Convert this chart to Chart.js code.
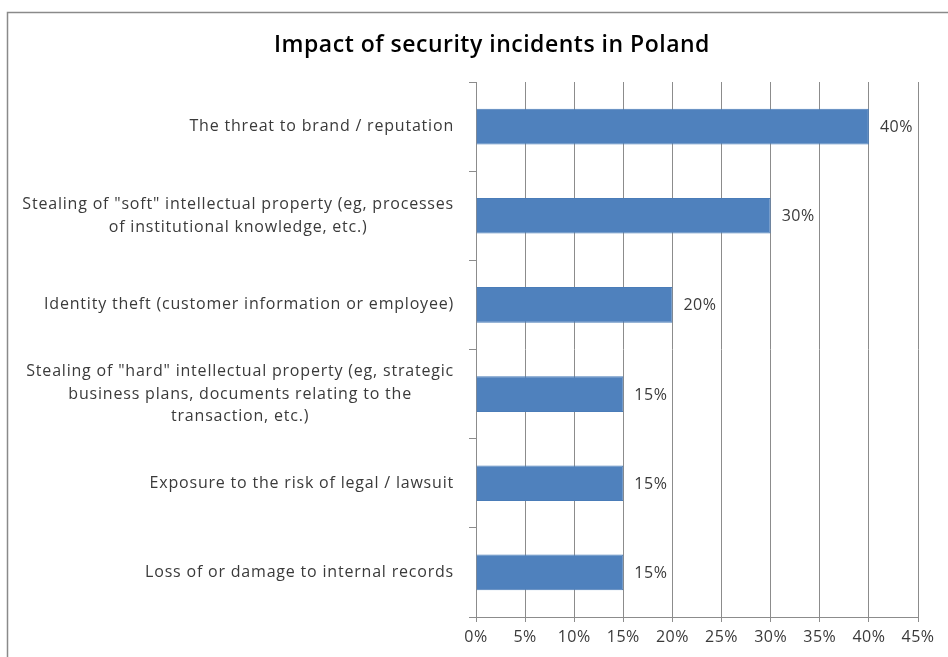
<!DOCTYPE html>
<html>
<head>
<meta charset="utf-8">
<script src="https://cdn.jsdelivr.net/npm/chart.js"></script>
<style>
  html, body { margin: 0; padding: 0; background: #fff; }
  #wrap { width: 948px; height: 657px; position: relative; }
</style>
</head>
<body>
<div id="wrap"><canvas id="myChart" width="948" height="657"></canvas></div>
<script>
// datos
const titulo = 'Impact of security incidents in Poland';
const categorias = [
    ['The threat to brand / reputation'],
    ['Stealing of "soft" intellectual property (eg, processes', 'of institutional knowledge, etc.)'],
    ['Identity theft (customer information or employee)'],
    ['Stealing of "hard" intellectual property (eg, strategic', 'business plans, documents relating to the', 'transaction, etc.)'],
    ['Exposure to the risk of legal / lawsuit'],
    ['Loss of or damage to internal records']
];
const valores = [40, 30, 20, 15, 15, 15];
const ticksX = [0, 5, 10, 15, 20, 25, 30, 35, 40, 45];

const fuente = '"Open Sans", sans-serif';
const colorTexto = '#3a3a3a';
const colorGris = '#8c8c8c';

document.addEventListener('DOMContentLoaded', function(){
    iniciarApp();
});

function iniciarApp(){
    dibujarGrafica();
}

// marco, titulo, etiquetas del eje y y valores
const extras = {
    id: 'extras',
    beforeDraw(chart) {
        chart.ctx.letterSpacing = '0.5px';
    },
    afterDraw(chart) {
        const ctx = chart.ctx;
        const y = chart.scales.y;
        const x = chart.scales.x;
        ctx.save();

        ctx.strokeStyle = '#8a8a8a';
        ctx.lineWidth = 1.5;
        ctx.strokeRect(7.5, 12.5, 1000, 1000);

        ctx.fillStyle = '#000';
        ctx.font = '600 23px ' + fuente;
        ctx.letterSpacing = '0.5px';
        ctx.textAlign = 'center';
        ctx.textBaseline = 'middle';
        ctx.fillText(titulo, 492, 45);

        ctx.font = '16px ' + fuente;
        ctx.letterSpacing = '0.8px';
        ctx.fillStyle = colorTexto;
        categorias.forEach((lineas, i) => {
            const cy = y.getPixelForValue(i);
            const anchoMax = Math.max(...lineas.map(l => ctx.measureText(l).width));
            const cx = x.left - 22 - anchoMax / 2;
            const alto = 22.5;
            lineas.forEach((l, j) => {
                ctx.fillText(l, cx, cy + (j - (lineas.length - 1) / 2) * alto);
            });
        });

        ctx.textAlign = 'left';
        ctx.letterSpacing = '0.5px';
        chart.getDatasetMeta(0).data.forEach((barra, i) => {
            ctx.fillText(valores[i] + '%', barra.x + 11, barra.y + 1);
        });
        ctx.restore();
    }
};

function dibujarGrafica(){
    const ctx = document.getElementById('myChart').getContext('2d');
    new Chart(ctx, {
        type: 'bar',
        data: {
            labels: categorias,
            datasets: [{
                data: valores,
                backgroundColor: '#4f81bd',
                borderColor: '#4a7cb8',
                borderWidth: 1,
                barPercentage: 0.4,
                categoryPercentage: 1
            }]
        },
        options: {
            indexAxis: 'y',
            responsive: false,
            animation: false,
            layout: { padding: { top: 82, right: 30, left: 0, bottom: 0 } },
            plugins: {
                legend: { display: false },
                tooltip: { enabled: false }
            },
            scales: {
                x: {
                    min: 0,
                    max: 45,
                    afterBuildTicks: (scale) => { scale.ticks = ticksX.map(v => ({ value: v })); },
                    afterFit: (scale) => { scale.height = 40; },
                    grid: { color: colorGris, tickLength: 5 },
                    border: { color: colorGris },
                    ticks: {
                        padding: 6,
                        color: colorTexto,
                        font: { family: fuente, size: 16 },
                        callback: (v) => v + '%'
                    }
                },
                y: {
                    afterFit: (scale) => { scale.width = 476; },
                    grid: { drawOnChartArea: false, tickLength: 7, color: colorGris, offset: true },
                    border: { color: colorGris },
                    ticks: { display: false }
                }
            }
        },
        plugins: [extras]
    });
}
</script>
</body>
</html>
